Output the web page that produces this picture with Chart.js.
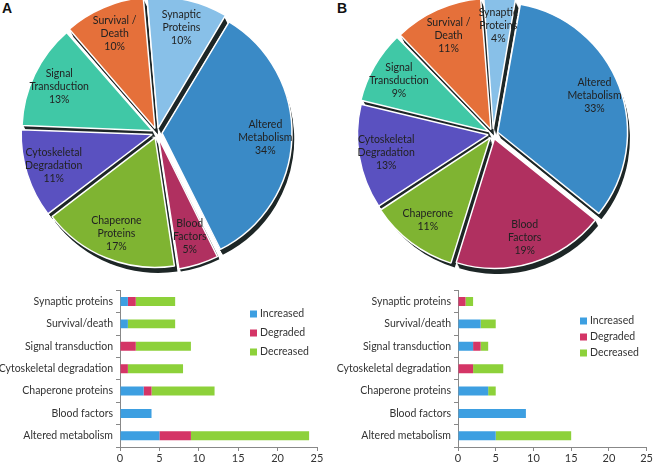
<!DOCTYPE html>
<html>
<head>
<meta charset="utf-8">
<script src="https://cdn.jsdelivr.net/npm/chart.js@4.4.0/dist/chart.umd.min.js"></script>
<style>
body { margin: 0; background: #fff; width: 654px; height: 464px; position: relative; overflow: hidden; }
.box { position: absolute; }
.tag { position: absolute; font: bold 14px "Liberation Sans", Arial, sans-serif; color: #111; }
</style>
</head>
<body>
<div class="tag" style="left:2px;top:0px">A</div>
<div class="tag" style="left:337px;top:0px">B</div>
<div class="box" style="left:0px;top:-7px;width:314px;height:280px"><canvas id="pieA"></canvas></div>
<div class="box" style="left:330px;top:-6px;width:326px;height:280px"><canvas id="pieB"></canvas></div>
<div class="box" style="left:0px;top:281px;width:330px;height:183px"><canvas id="barA"></canvas></div>
<div class="box" style="left:330px;top:281px;width:324px;height:183px"><canvas id="barB"></canvas></div>
<script>
// pie slices, clockwise from the start angle
const pieLinesA = [['Altered', 'Metabolism'], ['Blood', 'Factors'], ['Chaperone', 'Proteins'], ['Cytoskeletal', 'Degradation'], ['Signal', 'Transduction'], ['Survival /', 'Death'], ['Synaptic', 'Proteins']];
const pieLinesB = [['Altered', 'Metabolism'], ['Blood', 'Factors'], ['Chaperone'], ['Cytoskeletal', 'Degradation'], ['Signal', 'Transduction'], ['Survival /', 'Death'], ['Synaptic', 'Proteins']];
const pctA = [34, 5, 17, 11, 13, 10, 10];
const pctB = [33, 19, 11, 13, 9, 11, 4];
const pieColors = ['#3a8ac6', '#b03060', '#7fb432', '#5a51c0', '#40c8a6', '#e5703a', '#88c0e8'];

// stacked bars
const barCats = ['Synaptic proteins', 'Survival/death', 'Signal transduction', 'Cytoskeletal degradation', 'Chaperone proteins', 'Blood factors', 'Altered metabolism'];
const incA = [1, 1, 0, 0, 3, 4, 5];
const degA = [1, 0, 2, 1, 1, 0, 4];
const decA = [5, 6, 7, 7, 8, 0, 15];
const incB = [0, 3, 2, 0, 4, 9, 5];
const degB = [1, 0, 1, 2, 0, 0, 0];
const decB = [1, 2, 1, 4, 1, 0, 10];
const xTicks = [0, 5, 10, 15, 20, 25];

const FONT = 'Lato, "Open Sans", sans-serif';

// dark extruded edge under each slice
const pieShadow = {
    id: 'pieShadow',
    beforeDatasetsDraw(chart) {
        const ctx = chart.ctx;
        ctx.save();
        ctx.fillStyle = '#1d2626';
        chart.getDatasetMeta(0).data.forEach(arc => {
            const p = arc.getProps(['x', 'y', 'startAngle', 'endAngle', 'outerRadius'], true);
            const mid = (p.startAngle + p.endAngle) / 2;
            const off = (arc.options.offset || 0) / 4;
            const cx = p.x + Math.cos(mid) * off;
            const cy = p.y + Math.sin(mid) * off;
            for (let k = 1; k <= 6; k++) {
                ctx.beginPath();
                ctx.moveTo(cx + k * 0.5, cy + k);
                ctx.arc(cx + k * 0.5, cy + k, p.outerRadius, p.startAngle, p.endAngle);
                ctx.closePath();
                ctx.fill();
            }
        });
        ctx.restore();
    }
};

// text inside slices
const pieText = {
    id: 'pieText',
    afterDatasetsDraw(chart, args, opts) {
        const ctx = chart.ctx;
        ctx.save();
        ctx.font = '10.5px ' + FONT;
        ctx.fillStyle = '#222';
        ctx.textAlign = 'center';
        ctx.textBaseline = 'middle';
        chart.getDatasetMeta(0).data.forEach((arc, i) => {
            const p = arc.getProps(['x', 'y', 'startAngle', 'endAngle', 'outerRadius'], true);
            const mid = (p.startAngle + p.endAngle) / 2;
            const r = p.outerRadius * opts.radius + (arc.options.offset || 0) / 4;
            const x = p.x + Math.cos(mid) * r;
            const y = p.y + Math.sin(mid) * r;
            const lines = opts.lines[i].concat(chart.data.datasets[0].data[i] + '%');
            lines.forEach((t, k) => {
                ctx.fillText(t, x, y + (k - (lines.length - 1) / 2) * 13);
            });
        });
        ctx.restore();
    }
};

// little square legend inside the plot
const boxLegend = {
    id: 'boxLegend',
    afterDraw(chart, args, opts) {
        const ctx = chart.ctx;
        ctx.save();
        ctx.font = '10.5px ' + FONT;
        ctx.textBaseline = 'middle';
        chart.data.datasets.forEach((ds, i) => {
            const y = opts.y + i * opts.gap;
            ctx.fillStyle = ds.backgroundColor;
            ctx.fillRect(opts.x, y - 3.5, 7, 7);
            ctx.fillStyle = '#333';
            ctx.fillText(ds.label, opts.x + 10, y);
        });
        ctx.restore();
    }
};

function makePie(id, pct, lines, rotation) {
    return new Chart(document.getElementById(id), {
        type: 'pie',
        data: {
            labels: lines.map(l => l.join(' ')),
            datasets: [{
                data: pct,
                backgroundColor: pieColors,
                borderColor: '#fff',
                borderWidth: 1.5,
                offset: 20
            }]
        },
        options: {
            responsive: true,
            maintainAspectRatio: false,
            animation: false,
            rotation: rotation,
            plugins: {
                legend: { display: false },
                tooltip: { enabled: false },
                pieText: { lines: lines, radius: 0.8 }
            }
        },
        plugins: [pieShadow, pieText]
    });
}

function makeBar(id, inc, deg, dec, axisWidth, padRight, legendPos) {
    return new Chart(document.getElementById(id), {
        type: 'bar',
        data: {
            labels: barCats,
            datasets: [
                { label: 'Increased', data: inc, backgroundColor: '#3d9fe1' },
                { label: 'Degraded', data: deg, backgroundColor: '#d43566' },
                { label: 'Decreased', data: dec, backgroundColor: '#8dd13a' }
            ]
        },
        options: {
            indexAxis: 'y',
            responsive: true,
            maintainAspectRatio: false,
            animation: false,
            datasets: { bar: { barPercentage: 0.5, categoryPercentage: 0.8 } },
            layout: { padding: { top: 0, right: padRight } },
            scales: {
                x: {
                    stacked: true,
                    min: 0, max: 25,
                    afterBuildTicks: s => { s.ticks = xTicks.map(v => ({ value: v })); },
                    grid: { drawOnChartArea: false, tickLength: 4, color: '#888' },
                    border: { color: '#888' },
                    ticks: { color: '#333', padding: 1, font: { family: FONT, size: 11 } },
                    afterFit: s => { s.height = 17; }
                },
                y: {
                    stacked: true,
                    grid: { drawOnChartArea: false, tickLength: 4, color: '#888', offset: true },
                    border: { color: '#888' },
                    ticks: { color: '#333', padding: 3, font: { family: FONT, size: 10.5 } },
                    afterFit: s => { s.width = axisWidth; }
                }
            },
            plugins: {
                legend: { display: false },
                tooltip: { enabled: false },
                boxLegend: legendPos
            }
        },
        plugins: [boxLegend]
    });
}

makePie('pieA', pctA, pieLinesA, 31);
makePie('pieB', pctB, pieLinesB, 10);
makeBar('barA', incA, degA, decA, 120, 13, { x: 250, y: 33, gap: 19 });
makeBar('barB', incB, degB, decB, 128, 0, { x: 250, y: 40, gap: 16 });
</script>
</body>
</html>
